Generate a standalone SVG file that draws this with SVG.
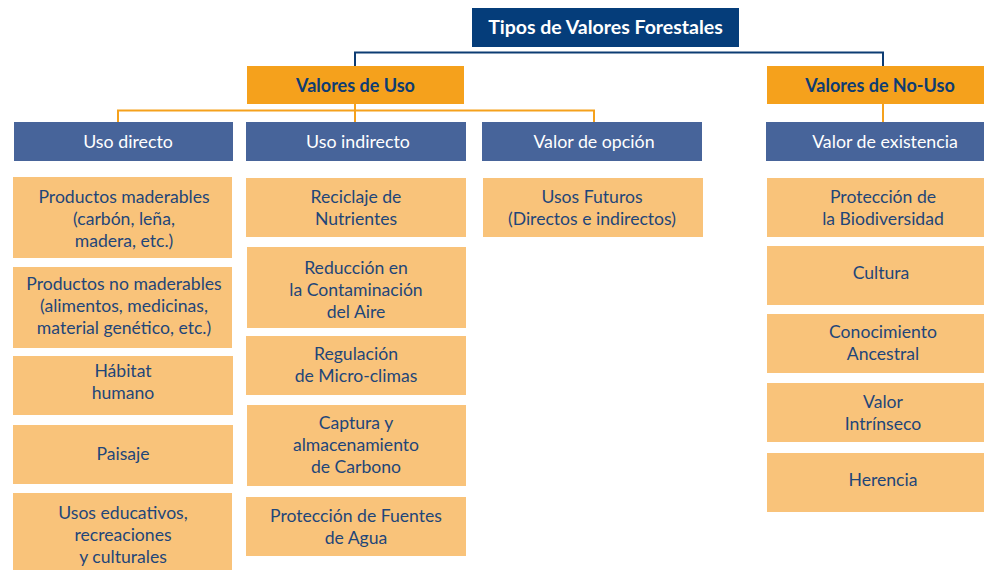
<svg xmlns="http://www.w3.org/2000/svg" width="986" height="570" viewBox="0 0 986 570">
<style>
.title{fill:#053d7a}
.cat{fill:#f5a11c}
.sub{fill:#47649a}
.leaf{fill:#f9c37a}
text{font-family:Lato,"Open Sans","Liberation Sans",sans-serif;text-anchor:middle}
.tt{fill:#ffffff;font-size:19.5px;font-weight:bold}
.ct{fill:#0d3c73;font-size:18px;font-weight:bold}
.st{fill:#ffffff;font-size:17.8px}
.lt{fill:#1f4679;font-size:17.6px}
.blue{stroke:#0d3c73;stroke-width:2;fill:none}
.orng{stroke:#f5a11c;stroke-width:2;fill:none}
</style>
<rect width="986" height="570" fill="#ffffff"/>
<g id="connectors">
<path class="blue" d="M355 66 V52.5 H883 V66"/>
<path class="orng" d="M355 104 V110.5 M118 122 V110.5 H594 V122 M355 110.5 V122"/>
<path class="orng" d="M883 104 V122"/>
</g>
<g id="n-title"><rect class="title" x="472" y="8" width="267" height="39"/><text class="tt" x="605.5" y="34">Tipos de Valores Forestales</text></g>
<g id="n-uso"><rect class="cat" x="247" y="66" width="217" height="38"/><text class="ct" x="355.5" y="91.5">Valores de Uso</text></g>
<g id="n-nouso"><rect class="cat" x="767" y="66" width="217" height="38"/><text class="ct" x="880" y="91.5">Valores de No-Uso</text></g>
<g id="n-directo"><rect class="sub" x="14" y="122" width="219" height="39"/><text class="st" x="128" y="147.5">Uso directo</text></g>
<g id="n-indirecto"><rect class="sub" x="246" y="122" width="220" height="39"/><text class="st" x="358" y="147.5">Uso indirecto</text></g>
<g id="n-opcion"><rect class="sub" x="482" y="122" width="220" height="39"/><text class="st" x="594" y="147.5">Valor de opción</text></g>
<g id="n-existencia"><rect class="sub" x="766" y="122" width="218" height="39"/><text class="st" x="885" y="147.5">Valor de existencia</text></g>

<g id="n-maderables"><rect class="leaf" x="13" y="177" width="219" height="81"/><text class="lt" x="124"><tspan x="124" y="203">Productos maderables</tspan><tspan x="124" y="225">(carbón, leña,</tspan><tspan x="124" y="247">madera, etc.)</tspan></text></g>
<g id="n-nomaderables"><rect class="leaf" x="13" y="267" width="219" height="81"/><text class="lt" x="124"><tspan x="124" y="290">Productos no maderables</tspan><tspan x="124" y="312">(alimentos, medicinas,</tspan><tspan x="124" y="334">material genético, etc.)</tspan></text></g>
<g id="n-habitat"><rect class="leaf" x="13" y="356" width="220" height="59"/><text class="lt" x="123"><tspan x="123" y="377">Hábitat</tspan><tspan x="123" y="399">humano</tspan></text></g>
<g id="n-paisaje"><rect class="leaf" x="13" y="425" width="220" height="59"/><text class="lt" x="123" y="460">Paisaje</text></g>
<g id="n-educativos"><rect class="leaf" x="13" y="493" width="219" height="77"/><text class="lt" x="123"><tspan x="123" y="519">Usos educativos,</tspan><tspan x="123" y="541">recreaciones</tspan><tspan x="123" y="563">y culturales</tspan></text></g>

<g id="n-reciclaje"><rect class="leaf" x="246" y="178" width="220" height="59"/><text class="lt" x="356"><tspan x="356" y="203">Reciclaje de</tspan><tspan x="356" y="225">Nutrientes</tspan></text></g>
<g id="n-reduccion"><rect class="leaf" x="247" y="247" width="219" height="81"/><text class="lt" x="356"><tspan x="356" y="274">Reducción en</tspan><tspan x="356" y="296">la Contaminación</tspan><tspan x="356" y="318">del Aire</tspan></text></g>
<g id="n-regulacion"><rect class="leaf" x="246" y="336" width="220" height="59"/><text class="lt" x="356"><tspan x="356" y="360">Regulación</tspan><tspan x="356" y="382">de Micro-climas</tspan></text></g>
<g id="n-captura"><rect class="leaf" x="247" y="405" width="219" height="81"/><text class="lt" x="356"><tspan x="356" y="429">Captura y</tspan><tspan x="356" y="451">almacenamiento</tspan><tspan x="356" y="473">de Carbono</tspan></text></g>
<g id="n-fuentes"><rect class="leaf" x="246" y="497" width="220" height="59"/><text class="lt" x="356"><tspan x="356" y="522">Protección de Fuentes</tspan><tspan x="356" y="544">de Agua</tspan></text></g>

<g id="n-futuros"><rect class="leaf" x="483" y="178" width="220" height="59"/><text class="lt" x="592"><tspan x="592" y="203">Usos Futuros</tspan><tspan x="592" y="225">(Directos e indirectos)</tspan></text></g>

<g id="n-biodiversidad"><rect class="leaf" x="767" y="178" width="217" height="59"/><text class="lt" x="883"><tspan x="883" y="203">Protección de</tspan><tspan x="883" y="225">la Biodiversidad</tspan></text></g>
<g id="n-cultura"><rect class="leaf" x="767" y="246" width="217" height="59"/><text class="lt" x="881" y="279">Cultura</text></g>
<g id="n-conocimiento"><rect class="leaf" x="767" y="314" width="217" height="59"/><text class="lt" x="883"><tspan x="883" y="338">Conocimiento</tspan><tspan x="883" y="360">Ancestral</tspan></text></g>
<g id="n-intrinseco"><rect class="leaf" x="767" y="383" width="217" height="59"/><text class="lt" x="883"><tspan x="883" y="408">Valor</tspan><tspan x="883" y="430">Intrínseco</tspan></text></g>
<g id="n-herencia"><rect class="leaf" x="767" y="453" width="217" height="59"/><text class="lt" x="883" y="486">Herencia</text></g>
</svg>
